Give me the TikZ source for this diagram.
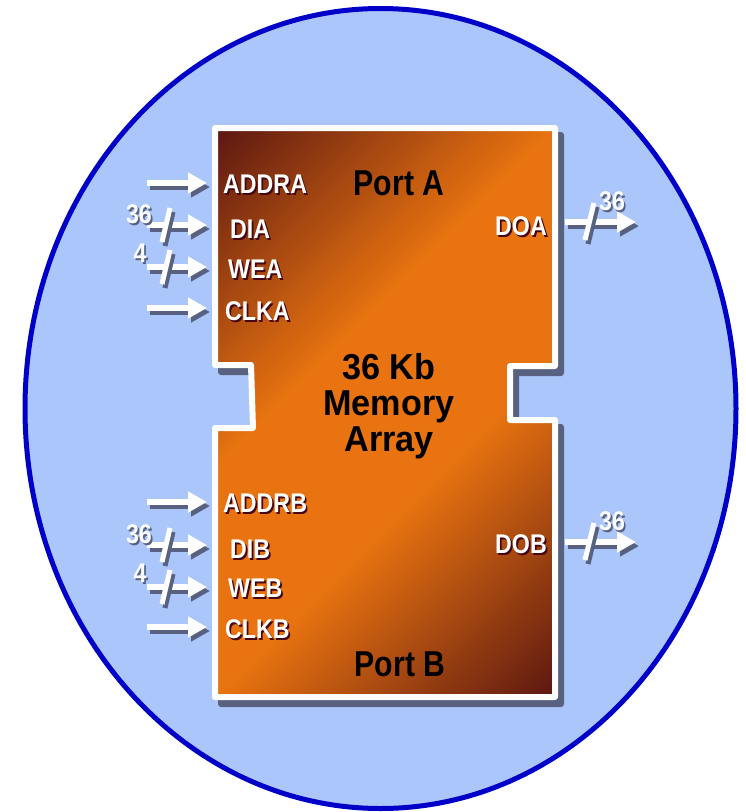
\documentclass[tikz,border=0pt]{standalone}
\usepackage{fontspec}
\setmainfont{Liberation Sans}
\usepackage{graphicx}
\usetikzlibrary{arrows.meta}

\definecolor{ringblue}{RGB}{0,0,200}
\definecolor{skyfill}{RGB}{171,198,251}
\definecolor{memdark}{RGB}{62,4,18}
\definecolor{memorange}{RGB}{232,115,16}
\definecolor{txtshadow}{RGB}{70,6,18}
\definecolor{slate}{RGB}{88,98,128}

\pgfdeclarehorizontalshading{memfade}{100bp}{color(0bp)=(memdark); color(9bp)=(memdark); color(41bp)=(memorange); color(59bp)=(memorange); color(91bp)=(memdark); color(100bp)=(memdark)}

\newcommand{\sig}[1]{\scalebox{0.86}[1]{\rlap{\hspace{2pt}\raisebox{-2pt}{\color{txtshadow}#1}}#1}}
\newcommand{\wid}[1]{\scalebox{0.86}[1]{\rlap{\hspace{2pt}\raisebox{-2pt}{\color{slate}#1}}#1}}
\def\memoutline{(215,128) -- (555,128) -- (555,366) -- (510,366) -- (510,420) -- (555,420) -- (555,697) -- (215,697) -- (215,428) -- (253,428) -- (251,365) -- (215,365) -- cycle}

\begin{document}
\begin{tikzpicture}[x=1pt, y=-1pt,
  sig/.style={text=white, font=\bfseries\fontsize{27}{30}\selectfont, inner sep=0pt},
  wlbl/.style={text=white!94!skyfill, font=\bfseries\fontsize{27}{30}\selectfont, inner sep=0pt},
  port/.style={text=black, font=\bfseries\fontsize{36}{36}\selectfont, inner sep=0pt},
  pin/.style={draw=white, line width=6pt, -{Triangle[length=19pt,width=20pt]}},
  pinshade/.style={draw=slate, line width=6pt, -{Triangle[length=19pt,width=20pt]}, transform canvas={xshift=3pt,yshift=-4pt}},
  bar/.style={draw=white, line width=5pt},
  barshade/.style={draw=slate, line width=5pt, transform canvas={xshift=3pt,yshift=-4pt}}]
\useasboundingbox (0,0) rectangle (746,812);

\draw[ringblue, line width=5pt, fill=skyfill] (380.5,408.5) ellipse [x radius=355.5, y radius=400];

% memory block
\filldraw[slate, line width=6pt, line join=round, shift={(6,7)}] \memoutline;
\shade[shading=memfade, shading angle=-45] \memoutline;
\draw[white, line width=6pt, line join=round] \memoutline;

\node[port, anchor=base] (portA) at (399,195) {\scalebox{0.84}[1]{Port A}};
\node[port, anchor=base] (portB) at (400,676) {\scalebox{0.84}[1]{Port B}};
\node[port, align=center] (core) at (389,406) {\scalebox{0.95}[1]{36 Kb}\\\scalebox{0.95}[1]{Memory}\\\scalebox{0.95}[1]{Array}};

\foreach \nm/\x/\y/\ay in {ADDRA/223/193/183, DIA/230/238/225, WEA/228/278/267, CLKA/225/320/308, ADDRB/223/512/502, DIB/230/558/545, WEB/228/597/587, CLKB/225/638/627}{
  \node[sig, anchor=base west] (\nm) at (\x,\y) {\sig{\nm}};
  \coordinate (\nm-s) at (147,\ay);
  \coordinate (\nm-e) at (207,\ay);
  \draw[pinshade] (\nm-s) -- (\nm-e);
  \draw[pin] (\nm-s) -- (\nm-e);
}

\foreach \nm/\y/\ay in {DOA/235/222, DOB/553/542}{
  \node[sig, anchor=base east] (\nm) at (547,\y) {\sig{\nm}};
  \coordinate (\nm-s) at (565,\ay);
  \coordinate (\nm-e) at (636,\ay);
  \draw[pinshade] (\nm-s) -- (\nm-e);
  \draw[pin] (\nm-s) -- (\nm-e);
  \draw[barshade] ([shift={(20,18)}]\nm-s) -- ([shift={(29,-19)}]\nm-s);
  \draw[bar] ([shift={(20,18)}]\nm-s) -- ([shift={(29,-19)}]\nm-s);
  \node[wlbl, anchor=base] (w\nm) at (612,\ay-12) {\wid{36}};
}

\foreach \nm in {DIA, WEA, DIB, WEB}{
  \draw[barshade] ([shift={(15,17)}]\nm-s) -- ([shift={(23,-17)}]\nm-s);
  \draw[bar] ([shift={(15,17)}]\nm-s) -- ([shift={(23,-17)}]\nm-s);
}

\node[wlbl, anchor=base] (wDIA) at (139,223) {\wid{36}};
\node[wlbl, anchor=base] (wWEA) at (140,262) {\wid{4}};
\node[wlbl, anchor=base] (wDIB) at (139,543) {\wid{36}};
\node[wlbl, anchor=base] (wWEB) at (140,582) {\wid{4}};

\end{tikzpicture}
\end{document}
